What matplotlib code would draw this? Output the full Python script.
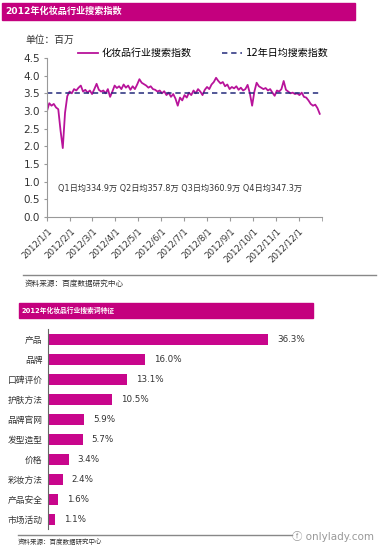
import numpy as np
import pandas as pd
import matplotlib
matplotlib.use("Agg")
import matplotlib.pyplot as plt
from matplotlib.patches import Rectangle
from matplotlib.lines import Line2D

plt.rcParams["font.family"] = ["DejaVu Sans", "Noto Sans CJK SC"]

# ---- data: daily search index (millions), read every 3 days ----
dates = pd.date_range("2012-01-01", "2012-12-31", freq="3D")
search_index = [
    3.00, 3.22, 3.15, 3.20, 3.10, 3.05, 2.45, 1.95, 2.95, 3.42,
    3.55, 3.50, 3.62, 3.58, 3.66, 3.72, 3.55, 3.60, 3.52, 3.58,
    3.48, 3.62, 3.77, 3.60, 3.55, 3.58, 3.50, 3.62, 3.40, 3.55,
    3.72, 3.65, 3.70, 3.62, 3.75, 3.66, 3.72, 3.60, 3.70, 3.62,
    3.75, 3.90, 3.80, 3.76, 3.72, 3.66, 3.70, 3.62, 3.60, 3.55,
    3.58, 3.50, 3.56, 3.45, 3.52, 3.40, 3.48, 3.35, 3.15, 3.38,
    3.30, 3.45, 3.38, 3.52, 3.45, 3.58, 3.50, 3.62, 3.55, 3.45,
    3.60, 3.68, 3.62, 3.75, 3.82, 3.94, 3.85, 3.78, 3.82, 3.70,
    3.75, 3.62, 3.68, 3.64, 3.70, 3.60, 3.66, 3.58, 3.62, 3.74,
    3.50, 3.15, 3.55, 3.80, 3.70, 3.66, 3.62, 3.65, 3.58, 3.62,
    3.52, 3.43, 3.58, 3.55, 3.62, 3.85, 3.60, 3.55, 3.50, 3.52,
    3.48, 3.50, 3.45, 3.52, 3.40, 3.38, 3.30, 3.20, 3.15, 3.18,
    3.08, 2.92,
]
year_avg = 3.5
quarter_note = "Q1日均334.9万 Q2日均357.8万 Q3日均360.9万 Q4日均347.3万"

# ---- data: search keyword features ----
categories = ["产品", "品牌", "口碑评价", "护肤方法", "品牌官网",
              "发型造型", "价格", "彩妆方法", "产品安全", "市场活动"]
shares = [36.3, 16.0, 13.1, 10.5, 5.9, 5.7, 3.4, 2.4, 1.6, 1.1]

MAGENTA = "#c4007e"
LINE_C = "#b8139a"
BAR_C = "#c8068c"
NAVY = "#232a7a"
TXT = "#333333"

W, H = 379, 554
fig = plt.figure(figsize=(W / 100, H / 100), dpi=100)


def fx(x):
    return x / W


def fy(y):
    return 1 - y / H


def header(x0, x1, y0, y1, text, size):
    fig.patches.append(Rectangle((fx(x0), fy(y1)), fx(x1 - x0), (y1 - y0) / H,
                                 transform=fig.transFigure, color=MAGENTA, zorder=0))
    fig.text(fx(x0 + 3), fy((y0 + y1) / 2), text, color="white", fontsize=size,
             fontweight="bold", va="center", ha="left")


# ---- top: line chart ----
header(2, 355, 3, 20, "2012年化妆品行业搜索指数", 6.6)

ax = fig.add_axes([fx(47), fy(217), fx(322 - 47), (217 - 58) / H])
ax.plot(dates, search_index, color=LINE_C, lw=1.3)
ax.axhline(year_avg, color=NAVY, lw=1.1, ls=(0, (3.5, 2.5)))
ax.set_ylim(0, 4.5)
ax.set_yticks(np.arange(0, 4.51, 0.5))
ax.yaxis.set_major_formatter(matplotlib.ticker.FormatStrFormatter("%.1f"))
ax.set_xlim(pd.Timestamp("2012-01-01"), pd.Timestamp("2013-01-01"))
months = pd.date_range("2012-01-01", "2012-12-01", freq="MS")
ax.set_xticks(months)
ax.set_xticks(list(months) + [pd.Timestamp("2013-01-01")], minor=True)
ax.set_xticklabels([f"{d.year}/{d.month}/1" for d in months], rotation=45,
                   ha="right", rotation_mode="anchor", fontsize=6.2, color=TXT)
ax.tick_params(axis="x", which="both", length=3, color="#999999", direction="out")
ax.tick_params(axis="y", length=2, color="#999999", labelsize=7.5, labelcolor=TXT, pad=3)
for s in ["top", "right"]:
    ax.spines[s].set_visible(False)
for s in ["left", "bottom"]:
    ax.spines[s].set_color("#999999")
    ax.spines[s].set_linewidth(0.8)
ax.text(pd.Timestamp("2012-01-16"), 0.82, quarter_note, fontsize=5.9, color=TXT,
        va="center", ha="left")

fig.text(fx(25), fy(40), "单位：百万", fontsize=7, color=TXT, va="center")
handles = [Line2D([], [], color=LINE_C, lw=1.3),
           Line2D([], [], color=NAVY, lw=1.1, ls=(0, (3.5, 2.5)))]
fig.legend(handles, ["化妆品行业搜索指数", "12年日均搜索指数"], ncol=2,
           loc="center left", bbox_to_anchor=(fx(78), fy(53)), frameon=False,
           fontsize=7.2, handlelength=2.0, handletextpad=0.4, columnspacing=3.0,
           borderpad=0, borderaxespad=0)

fig.lines.append(Line2D([fx(23), fx(376)], [fy(275), fy(275)], transform=fig.transFigure,
                        color="#888888", lw=1.0))
fig.text(fx(25), fy(283), "资料来源：百度数据研究中心", fontsize=5.5, color=TXT, va="center")

# ---- bottom: bar chart ----
header(19, 313, 303, 318, "2012年化妆品行业搜索词特征", 4.9)

bx = fig.add_axes([fx(48), fy(529), fx(351 - 48), 200 / H])
ypos = np.arange(len(categories))
bx.barh(ypos, shares, height=0.55, color=BAR_C)
bx.set_ylim(len(categories) - 0.5, -0.5)
bx.set_xlim(0, 50)
bx.set_yticks(ypos)
bx.set_yticklabels(categories, fontsize=6.3, color=TXT)
bx.tick_params(axis="y", length=0, pad=4)
bx.set_xticks([])
for s in ["top", "right", "bottom"]:
    bx.spines[s].set_visible(False)
bx.spines["left"].set_color("#666666")
bx.spines["left"].set_linewidth(0.8)
for y, v in zip(ypos, shares):
    bx.text(v + 1.5, y, f"{v:.1f}%", fontsize=6.3, color=TXT, va="center", ha="left")

fig.lines.append(Line2D([fx(18), fx(292)], [fy(535), fy(535)], transform=fig.transFigure,
                        color="#888888", lw=1.0))
fig.text(fx(18), fy(542), "资料来源：百度数据研究中心", fontsize=4.7, color=TXT, va="center")
fig.text(fx(292), fy(537), "ⓕ onlylady.com", fontsize=7.5, color="#999999", va="center")

fig.savefig("out.png", dpi=100)
